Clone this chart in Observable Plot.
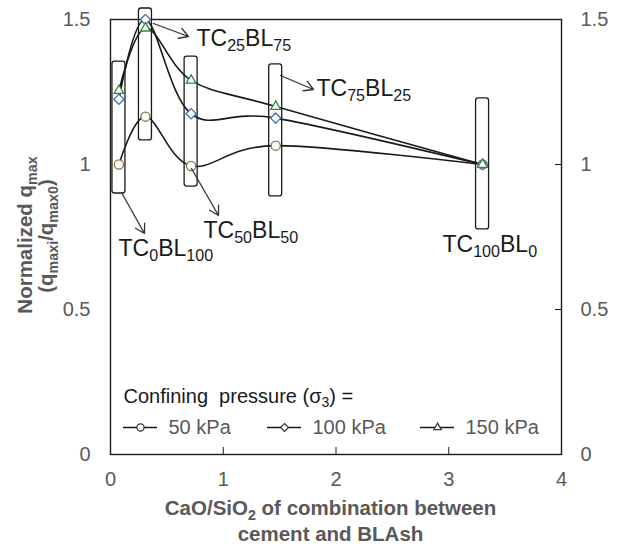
<!DOCTYPE html>
<html>
<head>
<meta charset="utf-8">
<script src="https://cdn.jsdelivr.net/npm/d3@7"></script>
<script src="https://cdn.jsdelivr.net/npm/@observablehq/plot@0.6"></script>
<style>
  body { margin: 0; background: #fff; }
  #chart svg { font-family: "Liberation Sans", Arial, sans-serif; }
</style>
</head>
<body>
<div id="chart"></div>
<script>
// CaO/SiO2 ratio of each cement / BLAsh blend
const ratio = [0.075, 0.31, 0.715, 1.465, 3.30];
const mixLabels = ["TC{0}BL{100}", "TC{25}BL{75}", "TC{50}BL{50}", "TC{75}BL{25}", "TC{100}BL{0}"];

// Normalized qmax for each confining pressure
const q50  = [1.000, 1.165, 0.995, 1.065, 1.000];
const q100 = [1.225, 1.500, 1.175, 1.160, 1.000];
const q150 = [1.255, 1.470, 1.290, 1.200, 1.000];

// Range boxes drawn around each blend
const rangeLo = [0.900, 1.083, 0.924, 0.890, 0.776];
const rangeHi = [1.355, 1.538, 1.372, 1.345, 1.228];

const pressures = ["50 kPa", "100 kPa", "150 kPa"];
const yTicks = [0, 0.5, 1, 1.5];
const xTicks = [0, 1, 2, 3, 4];

// ---- layout ----
const W = 620, H = 546;
const mL = 110, mR = 59, mT = 19, mB = 92;
const X = d3.scaleLinear([0, 4], [mL, W - mR]);
const Y = d3.scaleLinear([0, 1.5], [H - mB, mT]);

const ink = "#1a1a1a";
const grey = "#595959";
const symbols = ["circle", "diamond2", "triangle2"];
const markerStroke = ["#8a7444", "#3a6fb4", "#2f8a3a"];
const seriesValues = [q50, q100, q150];

const rows = pressures.flatMap((p, s) =>
  ratio.map((r, i) => ({series: p, ratio: r, q: seriesValues[s][i]})));

const boxes = ratio.map((r, i) => ({x: r, lo: rangeLo[i], hi: rangeHi[i]}));

// Callout placement (pixels): arrow from/to and label baseline start
const labelSize = 23;
const callouts = [
  {i: 0, from: [121, 192], to: [144, 233], at: [118, 255]},
  {i: 1, from: [153, 23],  to: [188, 36],  at: [196, 45]},
  {i: 2, from: [191, 168], to: [218, 215], at: [203, 237]},
  {i: 3, from: [280, 75],  to: [313, 89],  at: [316, 95]},
  {i: 4, from: null,       to: null,       at: [442, 251]}
].map(c => ({...c, label: mixLabels[c.i]}));
const arrows = callouts.filter(c => c.from);

// Legend layout (pixels)
const legendX = [123, 267, 420];
const legendRowY = 427;

const legendMarks = pressures.flatMap((p, s) => [
  Plot.ruleY([p], {
    y: () => Y.invert(legendRowY),
    x1: () => X.invert(legendX[s]), x2: () => X.invert(legendX[s] + 34),
    stroke: ink, strokeWidth: 1.3
  }),
  Plot.dot([p], {
    x: () => X.invert(legendX[s] + 17), y: () => Y.invert(legendRowY),
    symbol: symbols[s], r: 3.6, stroke: "#333", strokeWidth: 1.2, fill: "white"
  }),
  Plot.text([p], {
    x: () => X.invert(legendX[s] + 45), y: () => Y.invert(legendRowY),
    text: d => d, textAnchor: "start", fontSize: 20, fill: grey
  })
]);

const titleStyle = {fontWeight: "bold", fontSize: 20.5, fill: grey, textAnchor: "middle", lineAnchor: "middle"};

const chart = Plot.plot({
  width: W, height: H,
  marginLeft: mL, marginRight: mR, marginTop: mT, marginBottom: mB,
  style: {fontFamily: "'Liberation Sans', Arial, sans-serif", fontSize: "20px", color: grey, background: "white", overflow: "visible"},
  x: {domain: [0, 4]},
  y: {domain: [0, 1.5]},
  marks: [
    // range boxes
    Plot.rect(boxes, {
      x1: "x", x2: "x", y1: "lo", y2: "hi",
      insetLeft: -6.5, insetRight: -6.5, rx: 2.5,
      fill: "none", stroke: ink, strokeWidth: 1.3
    }),
    // axes
    Plot.axisY({anchor: "left", ticks: yTicks, tickSize: 0, tickPadding: 20, tickFormat: d => String(d), label: null, fill: grey}),
    Plot.axisY({anchor: "right", ticks: yTicks, tickSize: 0, tickPadding: 19, tickFormat: d => String(d), label: null, fill: grey}),
    Plot.axisY({anchor: "right", ticks: [0.5, 1], tickSize: 7, dx: -7, tickFormat: () => "", label: null, stroke: ink}),
    Plot.axisX({anchor: "bottom", ticks: xTicks, tickSize: 0, tickPadding: 17, tickFormat: d => String(d), label: null, fill: grey}),
    Plot.axisX({anchor: "bottom", ticks: [1, 2, 3], tickSize: 7, dy: -7, tickFormat: () => "", label: null, stroke: ink}),
    Plot.frame({stroke: ink, strokeWidth: 1.4}),
    // axis titles
    Plot.text(["Normalized q{max}"], {frameAnchor: "left", rotate: -90, dx: -85, dy: -2, text: d => d, ...titleStyle}),
    Plot.text(["(q{maxi}/q{max0})"], {frameAnchor: "left", rotate: -90, dx: -64, dy: -1, text: d => d, ...titleStyle}),
    Plot.text(["CaO/SiO{2} of combination between"], {frameAnchor: "bottom", dx: -5.5, dy: 54.4, text: d => d, ...titleStyle}),
    Plot.text(["cement and BLAsh"], {frameAnchor: "bottom", dx: -5.5, dy: 80.4, text: d => d, ...titleStyle}),
    // smoothed series lines
    Plot.line(rows, {x: "ratio", y: "q", z: "series", curve: "cardinal", tension: 0, stroke: ink, strokeWidth: 1.6}),
    // markers
    ...pressures.map((p, s) =>
      Plot.dot(rows.filter(d => d.series === p), {
        x: "ratio", y: "q", symbol: symbols[s], r: 4.6,
        stroke: markerStroke[s], strokeWidth: 1.3, fill: "white"
      })),
    // callouts
    Plot.arrow(arrows, {
      x1: d => X.invert(d.from[0]), y1: d => Y.invert(d.from[1]),
      x2: d => X.invert(d.to[0]), y2: d => Y.invert(d.to[1]),
      stroke: "#333", strokeWidth: 1.3, headLength: 12, headAngle: 60
    }),
    Plot.text(callouts, {
      x: d => X.invert(d.at[0]), y: d => Y.invert(d.at[1] - 0.32 * labelSize),
      text: "label", textAnchor: "start", fontSize: labelSize, fill: ink
    }),
    // legend
    Plot.text(["Confining  pressure (σ{3}) ="], {
      x: () => X.invert(123), y: () => Y.invert(402 - 0.32 * 20),
      text: d => d, textAnchor: "start", fontSize: 20, fill: ink
    }),
    ...legendMarks
  ]
});

document.getElementById("chart").appendChild(chart);

// Turn {..} segments of text into subscripts
function applySubscripts(svg) {
  const NS = "http://www.w3.org/2000/svg";
  svg.querySelectorAll("text").forEach(t => {
    if (t.childElementCount || !t.textContent.includes("{")) return;
    const size = parseFloat(getComputedStyle(t).fontSize);
    const shift = size * 0.22;
    const parts = t.textContent.split(/(\{[^}]*\})/).filter(s => s);
    t.textContent = "";
    t.style.whiteSpace = "pre";
    let lowered = false;
    for (const p of parts) {
      const sub = p.startsWith("{");
      const span = document.createElementNS(NS, "tspan");
      span.textContent = sub ? p.slice(1, -1) : p;
      if (sub) {
        span.setAttribute("font-size", (size * 0.7).toFixed(1));
        if (!lowered) span.setAttribute("dy", shift.toFixed(1));
        lowered = true;
      } else if (lowered) {
        span.setAttribute("dy", (-shift).toFixed(1));
        lowered = false;
      }
      t.appendChild(span);
    }
  });
}
applySubscripts(chart);
</script>
</body>
</html>
